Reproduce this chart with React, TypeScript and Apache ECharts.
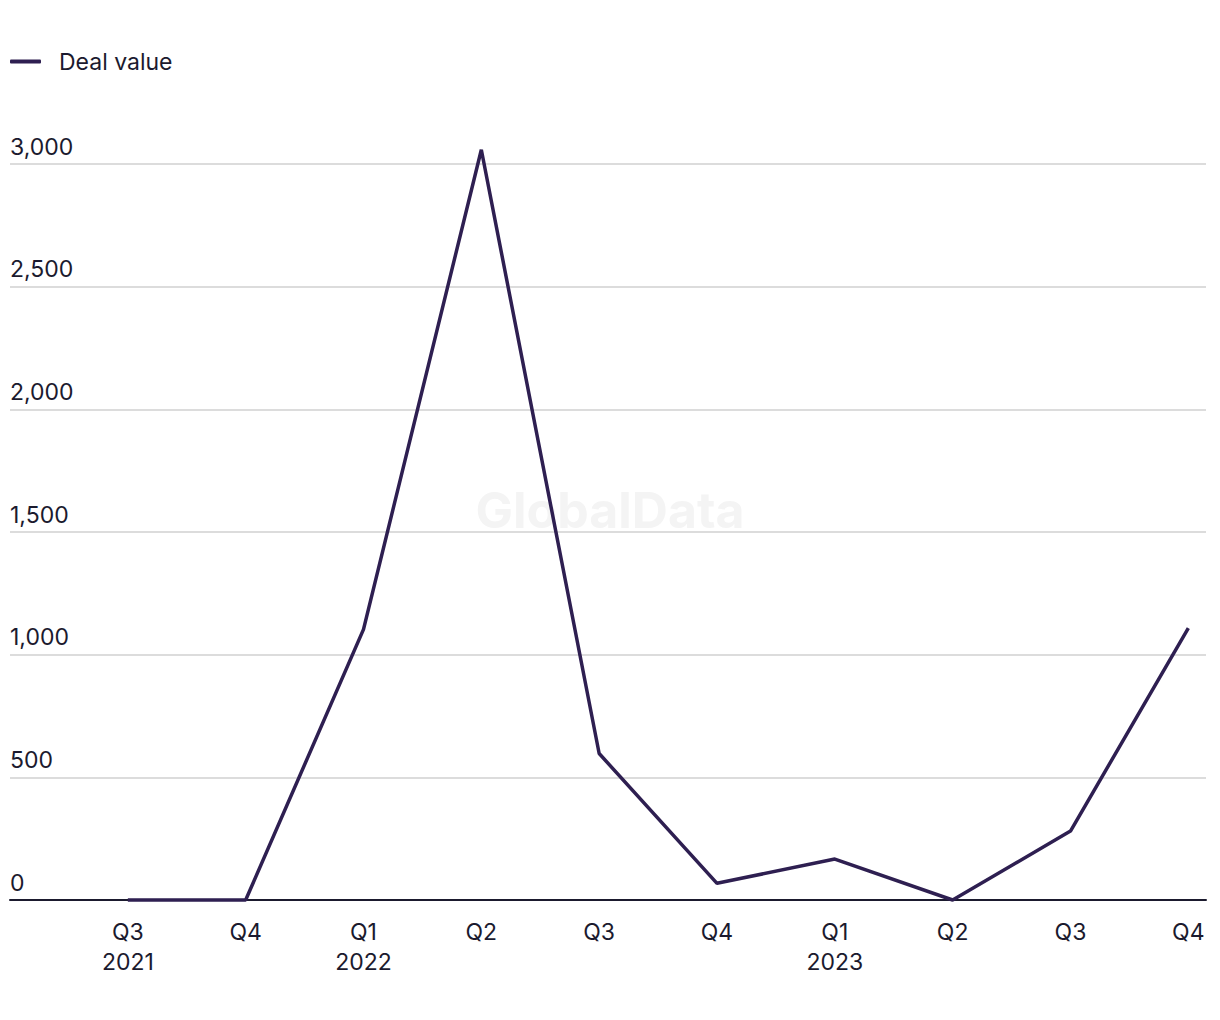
import React, { useEffect, useRef } from "react";
import * as echarts from "echarts";

const quarters = ["Q3", "Q4", "Q1", "Q2", "Q3", "Q4", "Q1", "Q2", "Q3", "Q4"];
const years = ["2021", "", "2022", "", "", "", "2023", "", "", ""];
const dealValue = [0, 0, 1103, 3058, 597, 68, 167, 0, 281, 1108];
const seriesName = "Deal value";
const yTicks = { min: 0, max: 3000, interval: 500 };

export default function App() {
  const ref = useRef<HTMLDivElement>(null);
  useEffect(() => {
    if (!ref.current) return;
    const chart = echarts.init(ref.current, undefined, { renderer: "svg" });
    const textColor = "#1b1a2e";
    const font = "Inter, 'Noto Sans', sans-serif";
    chart.setOption({
      animation: false,
      textStyle: { fontFamily: font },
      legend: {
        left: 10,
        top: 50,
        padding: 0,
        icon: "roundRect",
        itemWidth: 31,
        itemHeight: 4,
        textStyle: { fontSize: 23, color: textColor, padding: [0, 0, 0, 13], fontFamily: font },
        data: [seriesName],
      },
      graphic: [
        {
          type: "text",
          x: 610,
          y: 510,
          z: 0,
          style: {
            text: "GlobalData",
            x: 0,
            y: 0,
            fill: "#f4f4f4",
            fontSize: 50,
            fontWeight: "bold",
            fontFamily: font,
            textAlign: "center",
            textVerticalAlign: "middle",
          },
        },
      ],
      grid: { left: 10, right: 14, top: 164, bottom: 120, containLabel: false },
      xAxis: {
        type: "value",
        min: -1,
        max: 9.15,
        interval: 1,
        axisLine: { show: true, lineStyle: { color: "#1b1a2e", width: 2 } },
        axisTick: { show: false },
        splitLine: { show: false },
        axisLabel: {
          margin: 17,
          fontSize: 23,
          lineHeight: 30,
          color: textColor,
          fontFamily: font,
          formatter: (v: number) => {
            const i = Math.round(v);
            if (Math.abs(v - i) > 1e-6 || i < 0 || i >= quarters.length) return "";
            return years[i] ? quarters[i] + "\n" + years[i] : quarters[i];
          },
        },
      },
      yAxis: {
        type: "value",
        min: yTicks.min,
        max: yTicks.max,
        interval: yTicks.interval,
        axisLine: { show: false },
        axisTick: { show: false },
        splitLine: { show: true, lineStyle: { color: "#dcdcdc", width: 2 } },
        axisLabel: {
          inside: true,
          margin: 0,
          align: "left",
          verticalAlign: "bottom",
          lineHeight: 23,
          padding: [0, 0, 6, 0],
          fontSize: 23,
          color: textColor,
          fontFamily: font,
          formatter: (v: number) => v.toLocaleString("en-US"),
        },
      },
      series: [
        {
          name: seriesName,
          type: "line",
          data: dealValue.map((v, i) => [i, v]),
          showSymbol: false,
          symbol: "none",
          clip: false,
          z: 3,
          lineStyle: { color: "#2e1f51", width: 3.5 },
          itemStyle: { color: "#2e1f51" },
        },
      ],
    });
    return () => chart.dispose();
  }, []);
  return (
    <div
      ref={ref}
      style={{ position: "fixed", left: 0, top: 0, width: 1220, height: 1020, background: "#fff" }}
    />
  );
}
